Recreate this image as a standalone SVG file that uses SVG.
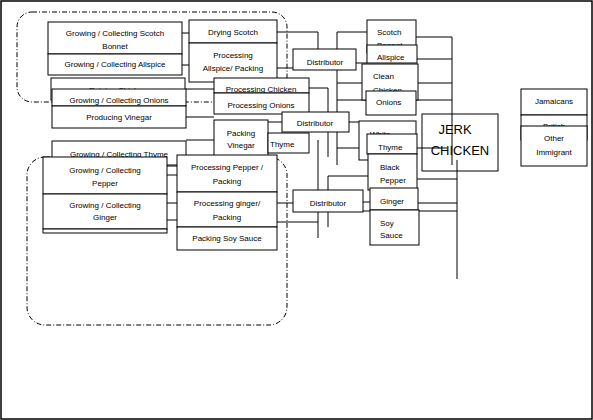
<svg xmlns="http://www.w3.org/2000/svg" width="593" height="420" viewBox="0 0 593 420">
<style>
.b{fill:#fff;stroke:#000;stroke-width:1}
.t{font-family:"Liberation Sans",Arial,sans-serif;font-size:8px;fill:#000}
.c{text-anchor:middle}
.big{font-family:"Liberation Sans",Arial,sans-serif;font-size:13px;fill:#000;text-anchor:middle}
.dd{fill:none;stroke:#000;stroke-width:1;stroke-dasharray:5 2 1 2}
#connectors line,#connectors2 line{stroke:#000;stroke-width:1}
</style>
<rect x="1" y="1" width="591" height="418" fill="#fff" stroke="#000" stroke-width="1.5"/>
<rect class="dd" x="17" y="12" width="270" height="90" rx="15"/>
<rect class="dd" x="27" y="157" width="260" height="168" rx="18"/>

<g id="connectors">
<line x1="182" y1="33" x2="189" y2="33"/>
<line x1="182" y1="65" x2="189" y2="65"/>
<line x1="186" y1="89" x2="214" y2="89"/>
<line x1="186" y1="117" x2="214" y2="117"/>
<line x1="186" y1="140" x2="214" y2="140"/>
<line x1="167" y1="166" x2="177" y2="166"/>
<line x1="167" y1="175" x2="177" y2="175"/>
<line x1="167" y1="203" x2="177" y2="203"/>
<line x1="167" y1="220" x2="177" y2="220"/>
<line x1="277" y1="32" x2="318" y2="32"/>
<line x1="318" y1="32" x2="318" y2="60"/>
<line x1="277" y1="68" x2="293" y2="68"/>
<line x1="337" y1="32" x2="367" y2="32"/>
<line x1="337" y1="32" x2="337" y2="165"/>
<line x1="356" y1="63" x2="367" y2="63"/>
<line x1="337" y1="83" x2="362" y2="83"/>
<line x1="337" y1="100" x2="366" y2="100"/>
<line x1="309" y1="88" x2="328" y2="88"/>
<line x1="328" y1="88" x2="328" y2="157"/>
<line x1="328" y1="176" x2="328" y2="227"/>
<line x1="328" y1="176" x2="368" y2="176"/>
<line x1="318" y1="140" x2="318" y2="238"/>
<line x1="268" y1="122" x2="282" y2="122"/>
<line x1="349" y1="122" x2="359" y2="122"/>
<line x1="337" y1="148" x2="367" y2="148"/>
<line x1="277" y1="203" x2="293" y2="203"/>
<line x1="277" y1="222" x2="318" y2="222"/>
<line x1="363" y1="202" x2="370" y2="202"/>
<line x1="328" y1="211" x2="457" y2="211"/>
<line x1="416" y1="37" x2="452" y2="37"/>
<line x1="417" y1="59" x2="452" y2="59"/>
<line x1="418" y1="83" x2="452" y2="83"/>
<line x1="416" y1="100" x2="452" y2="100"/>
<line x1="417" y1="179" x2="457" y2="179"/>
<line x1="418" y1="203" x2="457" y2="203"/>
</g>

<g id="n-sb"><rect class="b" x="48" y="22" width="134" height="32"/><text class="t c" x="115" y="36">Growing / Collecting Scotch</text><text class="t c" x="115" y="49">Bonnet</text></g>
<g id="n-alg"><rect class="b" x="48" y="54" width="134" height="21"/><text class="t c" x="115" y="67">Growing / Collecting  Allspice</text></g>
<g id="n-rc"><rect class="b" x="51" y="78" width="134" height="22"/><text class="t c" x="118" y="93">Raising Chicken</text></g>
<g id="n-on"><rect class="b" x="52" y="89" width="134" height="17"/><text class="t c" x="119" y="103">Growing / Collecting Onions</text></g>
<g id="n-vi"><rect class="b" x="52" y="106" width="134" height="22"/><text class="t c" x="119" y="120">Producing Vinegar</text></g>
<g id="n-th"><rect class="b" x="52" y="141" width="134" height="24"/><text class="t c" x="119" y="157">Growing / Collecting Thyme</text></g>
<g id="n-pe"><rect class="b" x="43" y="157" width="124" height="37"/><text class="t c" x="105" y="173">Growing / Collecting</text><text class="t c" x="105" y="186">Pepper</text></g>
<g id="n-gi"><rect class="b" x="43" y="194" width="124" height="35"/><text class="t c" x="105" y="208">Growing / Collecting</text><text class="t c" x="105" y="220">Ginger</text></g>
<g id="n-so"><rect class="b" x="43" y="229" width="124" height="4"/></g>

<g id="n-dry"><rect class="b" x="189" y="20" width="88" height="23"/><text class="t c" x="233" y="35">Drying Scotch</text><text class="t c" x="233" y="48">Bonnet / Packing</text></g>
<g id="n-pa"><rect class="b" x="189" y="43" width="88" height="39"/><text class="t c" x="233" y="58">Processing</text><text class="t c" x="233" y="71">Allspice/ Packing</text></g>
<g id="n-pc"><rect class="b" x="214" y="78" width="95" height="15"/><text class="t c" x="261" y="92">Processing Chicken</text></g>
<g id="n-po"><rect class="b" x="214" y="93" width="95" height="21"/><text class="t c" x="261" y="108">Processing Onions</text></g>
<g id="n-pv"><rect class="b" x="214" y="120" width="54" height="39"/><text class="t c" x="241" y="136">Packing</text><text class="t c" x="241" y="148">Vinegar</text></g>
<g id="n-thy"><rect class="b" x="268" y="133" width="41" height="20"/><text class="t" x="270" y="147">Thyme</text></g>
<g id="n-pp"><rect class="b" x="177" y="155" width="100" height="37"/><text class="t c" x="227" y="170">Processing Pepper /</text><text class="t c" x="227" y="184">Packing</text></g>
<g id="n-pg"><rect class="b" x="177" y="192" width="100" height="35"/><text class="t c" x="227" y="206">Processing ginger/</text><text class="t c" x="227" y="220">Packing</text></g>
<g id="n-ps"><rect class="b" x="177" y="227" width="100" height="23"/><text class="t c" x="227" y="241">Packing Soy Sauce</text></g>

<g id="n-d1"><rect class="b" x="293" y="49" width="63" height="21"/><text class="t c" x="325" y="65">Distributor</text></g>
<g id="n-d2"><rect class="b" x="282" y="112" width="67" height="20"/><text class="t c" x="315" y="126">Distributor</text></g>
<g id="n-d3"><rect class="b" x="293" y="190" width="70" height="22"/><text class="t c" x="328" y="206">Distributor</text></g>

<g id="n-rsb"><rect class="b" x="367" y="20" width="49" height="33"/><text class="t" x="377" y="35">Scotch</text><text class="t" x="377" y="48">Bonnet</text></g>
<g id="n-ral"><rect class="b" x="367" y="45" width="50" height="18"/><text class="t" x="377" y="60">Allspice</text></g>
<g id="n-rcc"><rect class="b" x="362" y="64" width="56" height="36"/><text class="t" x="373" y="79">Clean</text><text class="t" x="373" y="93">Chicken</text></g>
<g id="n-ron"><rect class="b" x="366" y="91" width="50" height="24"/><text class="t" x="376" y="105">Onions</text></g>
<g id="n-rwv"><rect class="b" x="359" y="121" width="57" height="39"/><text class="t" x="370" y="137">White</text></g>
<g id="n-rth"><rect class="b" x="367" y="134" width="50" height="20"/><text class="t" x="378" y="150">Thyme</text></g>
<g id="n-rbp"><rect class="b" x="368" y="154" width="49" height="36"/><text class="t" x="380" y="170">Black</text><text class="t" x="380" y="183">Pepper</text></g>
<g id="n-rgi"><rect class="b" x="370" y="188" width="48" height="22"/><text class="t" x="380" y="204">Ginger</text></g>
<g id="n-rso"><rect class="b" x="370" y="210" width="49" height="35"/><text class="t" x="380" y="226">Soy</text><text class="t" x="380" y="238">Sauce</text></g>

<g id="n-jerk"><rect class="b" x="422" y="114" width="76" height="57"/><text class="big" x="455" y="134">JERK</text><text class="big" x="460" y="155">CHICKEN</text></g>

<g id="connectors2">
<line x1="452" y1="37" x2="452" y2="165"/>
<line x1="417" y1="148" x2="447" y2="148"/>
<line x1="457" y1="160" x2="457" y2="279"/>
</g>

<g id="n-jam"><rect class="b" x="521" y="89" width="66" height="26"/><text class="t c" x="554" y="104">Jamaicans</text></g>
<g id="n-bri"><rect class="b" x="521" y="115" width="66" height="25"/><text class="t c" x="554" y="129">British</text></g>
<g id="n-oth"><rect class="b" x="521" y="126" width="66" height="40"/><text class="t c" x="554" y="141">Other</text><text class="t c" x="554" y="155">Immigrant</text></g>
</svg>
